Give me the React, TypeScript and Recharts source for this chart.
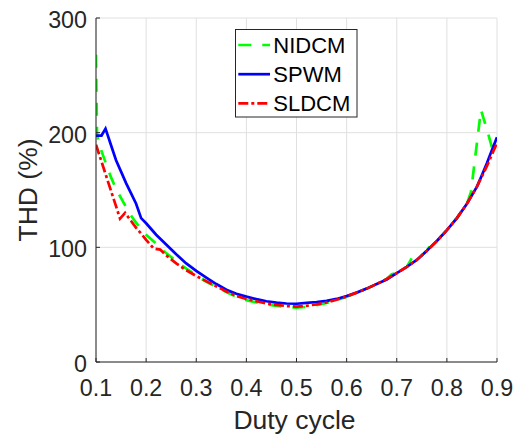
import React from 'react';
import { LineChart, Line, XAxis, YAxis, CartesianGrid } from 'recharts';

// ---- data ----
const xTicks = [0.1, 0.2, 0.3, 0.4, 0.5, 0.6, 0.7, 0.8, 0.9];
const xTickLabels = ['0.1', '0.2', '0.3', '0.4', '0.5', '0.6', '0.7', '0.8', '0.9'];
const yTicks = [0, 100, 200, 300];
const yTickLabels = ['0', '100', '200', '300'];
const seriesNames = ['NIDCM', 'SPWM', 'SLDCM'];
const xTitle = 'Duty cycle';
const yTitle = 'THD (%)';

const nidcmDuty = [0.1, 0.102, 0.106, 0.12, 0.13, 0.14, 0.155, 0.165, 0.178, 0.19, 0.2, 0.218, 0.23, 0.25, 0.27, 0.29, 0.3, 0.32, 0.34, 0.36, 0.38, 0.4, 0.42, 0.44, 0.46, 0.48, 0.5, 0.52, 0.54, 0.56, 0.58, 0.6, 0.62, 0.64, 0.66, 0.68, 0.69, 0.7, 0.72, 0.73, 0.74, 0.76, 0.77, 0.78, 0.8, 0.82, 0.84, 0.848, 0.868, 0.883, 0.89, 0.9];
const nidcmTHD = [268, 199, 190, 173, 161, 151, 139, 131, 122.6, 116, 111, 104, 98.5, 91.5, 84.5, 78.5, 75.5, 70, 65.5, 61, 57, 54, 52, 50.2, 49, 48, 47.5, 48, 49.5, 51.5, 54, 57, 60.5, 64, 68, 72.5, 76.5, 77.5, 83, 90.5, 89, 97, 104, 105.5, 115, 125.5, 138, 148, 220, 198, 187, 194];

const spwmDuty = [0.1, 0.111, 0.119, 0.13, 0.14, 0.15, 0.16, 0.17, 0.18, 0.19, 0.2, 0.21, 0.22, 0.24, 0.26, 0.28, 0.3, 0.32, 0.34, 0.36, 0.38, 0.4, 0.42, 0.44, 0.46, 0.48, 0.5, 0.52, 0.54, 0.56, 0.58, 0.6, 0.62, 0.64, 0.66, 0.68, 0.7, 0.72, 0.74, 0.76, 0.78, 0.8, 0.82, 0.84, 0.86, 0.87, 0.88, 0.89, 0.9];
const spwmTHD = [197.5, 197.5, 203.5, 189, 176, 166, 156, 147, 138, 125.5, 121, 116, 111, 102.5, 94, 86, 79.5, 73.5, 68, 63, 59.5, 57, 54.8, 53, 51.8, 51, 50.8, 51.5, 52.3, 53.3, 55, 57.5, 60.5, 64, 68, 72, 77.5, 83, 89, 97, 105.5, 115, 125.5, 138, 153, 163, 173.5, 185, 196];

const sldcmDuty = [0.1, 0.148, 0.158, 0.17, 0.18, 0.19, 0.2, 0.215, 0.228, 0.24, 0.26, 0.28, 0.3, 0.32, 0.34, 0.36, 0.38, 0.4, 0.42, 0.44, 0.46, 0.48, 0.5, 0.52, 0.54, 0.56, 0.58, 0.6, 0.62, 0.64, 0.66, 0.68, 0.7, 0.72, 0.74, 0.76, 0.78, 0.8, 0.82, 0.84, 0.86, 0.88, 0.89, 0.9];
const sldcmTHD = [189.5, 125, 130, 123, 117, 112, 106.5, 99, 98, 93, 86, 80, 75, 70.5, 66, 61.5, 57.5, 55, 53, 51, 49.8, 48.8, 48.3, 49, 50.3, 52, 54.3, 57, 60.5, 64, 68, 72.5, 77.5, 83, 89, 97, 105.5, 115, 125.5, 138, 153, 171, 181, 191];

const build = (xs: number[], ys: number[]) => xs.map((d, i) => ({ duty: d, thd: ys[i] }));
const nidcmData = build(nidcmDuty, nidcmTHD);
const spwmData = build(spwmDuty, spwmTHD);
const sldcmData = build(sldcmDuty, sldcmTHD);

// ---- styles ----
const FONT = '"Liberation Sans", Arial, Helvetica, sans-serif';
const INK = '#262626';
const GRID = '#e0e0e0';
const GREEN = '#00ff00';
const BLUE = '#0000ff';
const RED = '#ff0000';
const LW = 2.7;
const GREEN_DASH = '13 11';
const RED_DASH = '10 3 3 3';

const BottomTick = (p: any) => (
  <g>
    <line x1={p.x} y1={p.y} x2={p.x} y2={p.y - 4} stroke={INK} strokeWidth={1} />
    <text x={p.x} y={p.y + 34} textAnchor="middle" fontFamily={FONT} fontSize={23.3} fill={INK}>
      {xTickLabels[p.index]}
    </text>
  </g>
);
const TopTick = (p: any) => (
  <line x1={p.x} y1={p.y} x2={p.x} y2={p.y + 4} stroke={INK} strokeWidth={1} />
);
const LeftTick = (p: any) => (
  <g>
    <line x1={p.x} y1={p.y} x2={p.x + 4} y2={p.y} stroke={INK} strokeWidth={1} />
    <text x={p.x - 9} y={p.y + 10} textAnchor="end" fontFamily={FONT} fontSize={23.3} fill={INK}>
      {yTickLabels[yTicks.indexOf(p.payload.value)]}
    </text>
  </g>
);
const RightTick = (p: any) => (
  <line x1={p.x} y1={p.y} x2={p.x - 4} y2={p.y} stroke={INK} strokeWidth={1} />
);

const XTitle = (p: any) => {
  const vb = p.viewBox;
  return (
    <text x={vb.x + vb.width / 2 - 2} y={vb.y + 67} textAnchor="middle" fontFamily={FONT} fontSize={26.5} fill={INK}>
      {xTitle}
    </text>
  );
};
const YTitle = (p: any) => {
  const vb = p.viewBox;
  const cx = vb.x + 37;
  const cy = vb.y + vb.height / 2;
  return (
    <text x={cx} y={cy} transform={`rotate(-90, ${cx}, ${cy})`} textAnchor="middle" fontFamily={FONT} fontSize={26.5} fill={INK}>
      {yTitle}
    </text>
  );
};

const LegendBox = () => {
  const rows = [
    { color: GREEN, dash: GREEN_DASH },
    { color: BLUE, dash: undefined },
    { color: RED, dash: RED_DASH },
  ];
  return (
    <svg width={123} height={89} style={{ position: 'absolute', left: 235, top: 28.5, overflow: 'visible' }}>
      <rect x={0.5} y={0.5} width={121.5} height={87.5} fill="#fff" stroke={INK} strokeWidth={1} />
      {rows.map((r, i) => {
        const ly = 16 + i * 29.2;
        return (
          <g key={seriesNames[i]}>
            <line x1={3.3} y1={ly} x2={35} y2={ly} stroke={r.color} strokeWidth={LW} strokeDasharray={r.dash} />
            <text x={38.3} y={ly + 7.8} fontFamily={FONT} fontSize={22} fill="#000">
              {seriesNames[i]}
            </text>
          </g>
        );
      })}
    </svg>
  );
};

export default function App() {
  return (
    <div style={{ position: 'absolute', left: 0, top: 0, width: 521, height: 435, background: '#fff' }}>
      <LineChart width={521} height={435} margin={{ top: 18, right: 24, bottom: 0, left: 0 }}>
        <CartesianGrid stroke={GRID} strokeWidth={1} />
        <XAxis
          dataKey="duty"
          type="number"
          domain={[0.1, 0.9]}
          ticks={xTicks}
          interval={0}
          allowDataOverflow
          height={73}
          tickSize={0}
          tickMargin={0}
          tickLine={false}
          axisLine={{ stroke: INK, strokeWidth: 1 }}
          tick={BottomTick}
          label={XTitle}
        />
        <XAxis
          xAxisId="top"
          orientation="top"
          dataKey="duty"
          type="number"
          domain={[0.1, 0.9]}
          ticks={xTicks}
          interval={0}
          allowDataOverflow
          height={0}
          tickSize={0}
          tickMargin={0}
          tickLine={false}
          axisLine={{ stroke: INK, strokeWidth: 1 }}
          tick={TopTick}
        />
        <YAxis
          type="number"
          domain={[0, 300]}
          ticks={yTicks}
          interval={0}
          allowDataOverflow
          width={96}
          tickSize={0}
          tickMargin={0}
          tickLine={false}
          axisLine={{ stroke: INK, strokeWidth: 1 }}
          tick={LeftTick}
          label={YTitle}
        />
        <YAxis
          yAxisId="right"
          orientation="right"
          type="number"
          domain={[0, 300]}
          ticks={yTicks}
          interval={0}
          allowDataOverflow
          width={0}
          tickSize={0}
          tickMargin={0}
          tickLine={false}
          axisLine={{ stroke: INK, strokeWidth: 1 }}
          tick={RightTick}
        />
        <Line data={nidcmData} dataKey="thd" name={seriesNames[0]} type="linear" stroke={GREEN} strokeWidth={LW} strokeDasharray={GREEN_DASH} dot={false} activeDot={false} isAnimationActive={false} />
        <Line data={spwmData} dataKey="thd" name={seriesNames[1]} type="linear" stroke={BLUE} strokeWidth={LW} dot={false} activeDot={false} isAnimationActive={false} />
        <Line data={sldcmData} dataKey="thd" name={seriesNames[2]} type="linear" stroke={RED} strokeWidth={LW} strokeDasharray={RED_DASH} dot={false} activeDot={false} isAnimationActive={false} />
      </LineChart>
      <LegendBox />
    </div>
  );
}
